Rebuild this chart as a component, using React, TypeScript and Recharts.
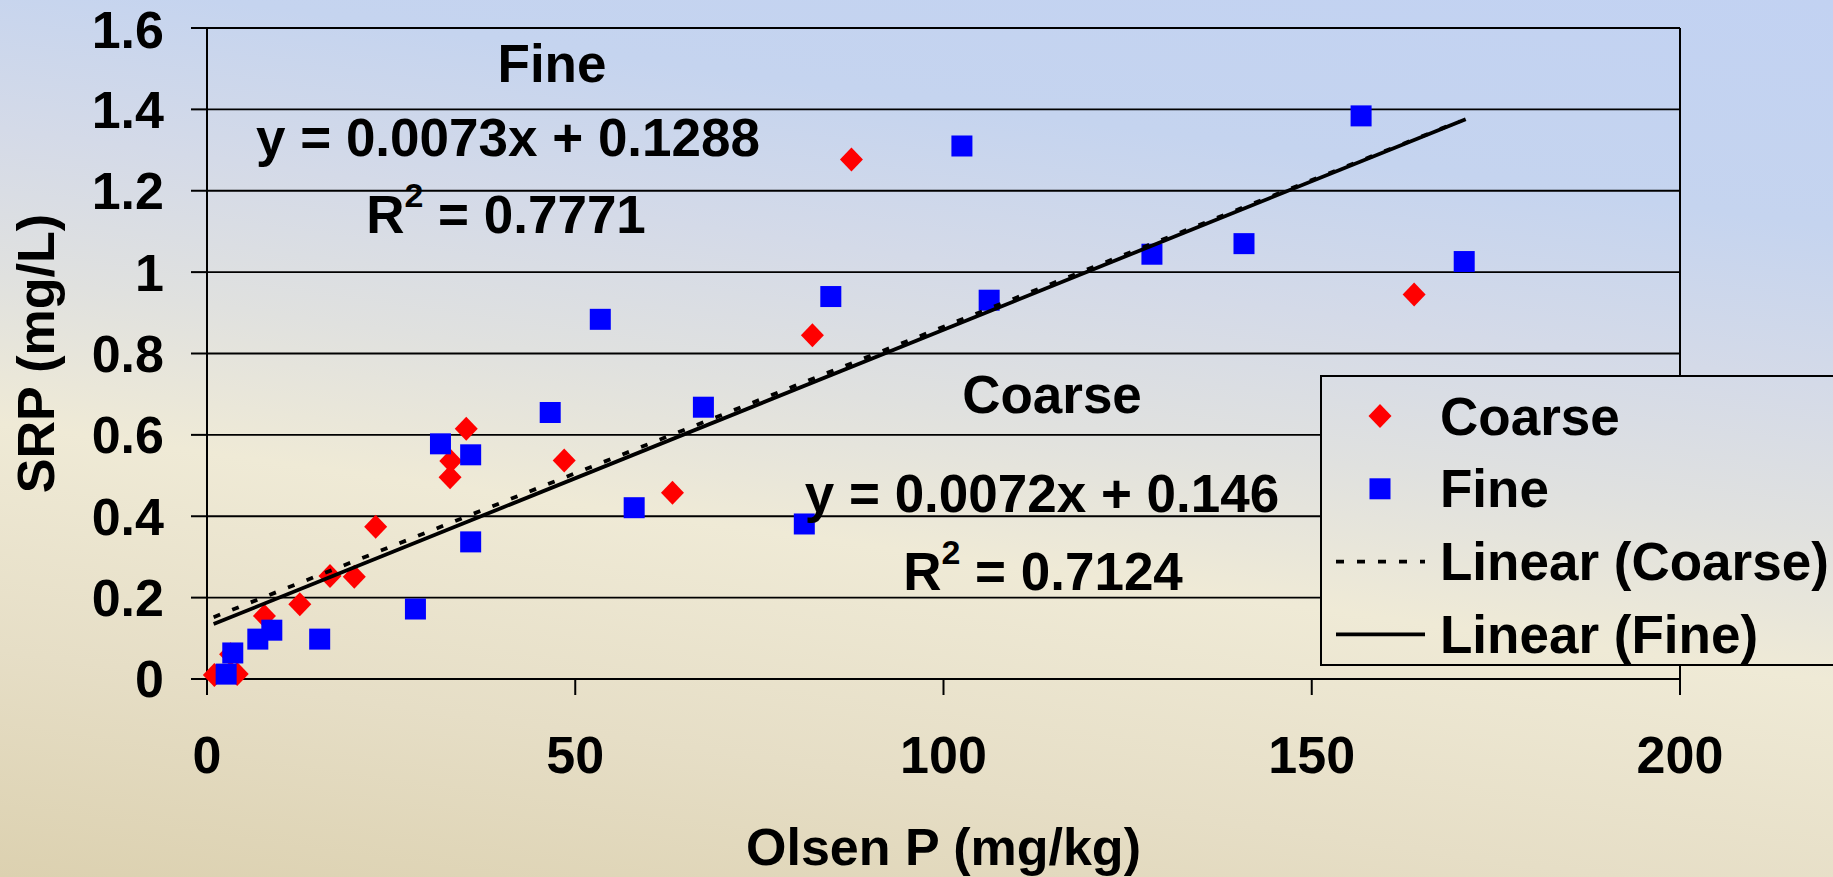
import React from 'react';
import { ScatterChart, Scatter, XAxis, YAxis, CartesianGrid, ReferenceLine, Legend, Label } from 'recharts';

// Olsen P (mg/kg) vs SRP (mg/L)
const coarseX = [1.0, 4.1, 3.2, 7.8, 12.6, 16.7, 20.0, 22.9, 33.0, 33.1, 35.2, 48.5, 63.2, 82.2, 87.5, 163.9];
const coarseY = [0.01, 0.012, 0.061, 0.155, 0.184, 0.253, 0.251, 0.374, 0.496, 0.536, 0.615, 0.537, 0.458, 0.845, 1.277, 0.945];

const fineX = [2.6, 3.5, 6.9, 8.8, 15.3, 28.3, 31.7, 35.8, 35.8, 46.6, 53.4, 58.0, 67.4, 81.1, 84.7, 102.5, 106.2, 128.3, 140.8, 156.7, 170.7];
const fineY = [0.012, 0.064, 0.098, 0.12, 0.098, 0.172, 0.578, 0.551, 0.337, 0.655, 0.884, 0.421, 0.668, 0.381, 0.94, 1.31, 0.931, 1.044, 1.07, 1.384, 1.026];

// trendline end points
const coarseTrendX = [0.9, 170];
const coarseTrendY = [0.152, 1.37];
const fineTrendX = [0.9, 170.9];
const fineTrendY = [0.135, 1.376];

const xTicks = [0, 50, 100, 150, 200];
const yTicks = [0, 0.2, 0.4, 0.6, 0.8, 1, 1.2, 1.4, 1.6];

const FONT = '"Liberation Sans", Arial, sans-serif';
const BG = 'linear-gradient(188deg, #c2d2f2 0%, #c5d4ef 20%, #d4dae8 34%, #e0e1df 47%, #efead6 60%, #e6dec6 80%, #dcd1b0 100%)';

const toPoints = (xs: number[], ys: number[]) => xs.map((x, i) => ({ x, y: ys[i] }));

const coarse = toPoints(coarseX, coarseY);
const fine = toPoints(fineX, fineY);
const coarseTrend = toPoints(coarseTrendX, coarseTrendY);
const fineTrend = toPoints(fineTrendX, fineTrendY);

const Diamond = (p: any) => {
  const { cx, cy } = p;
  return <polygon points={`${cx},${cy - 12} ${cx + 11.5},${cy} ${cx},${cy + 12} ${cx - 11.5},${cy}`} fill="#ff0000" />;
};

const Square = (p: any) => {
  const { cx, cy } = p;
  return <rect x={cx - 10.5} y={cy - 10.5} width={21} height={21} fill="#0000ff" />;
};

const NoDot = () => <g />;

const legendIcon: Record<string, string> = {
  Coarse: 'diamond',
  Fine: 'square',
  'Linear (Coarse)': 'dash',
  'Linear (Fine)': 'solid',
};

function LegendBox(props: any) {
  const items = (props.payload || []).filter((p: any) => legendIcon[p.value]);
  return (
    <div style={{ width: 520, height: 291, boxSizing: 'border-box', border: '2px solid #000', background: BG, backgroundAttachment: 'fixed' }}>
      <svg width={516} height={287}>
        {items.map((it: any, i: number) => {
          const cy = 39 + i * 72.8;
          const kind = legendIcon[it.value];
          return (
            <g key={it.value}>
              {kind === 'diamond' && <Diamond cx={58} cy={cy} />}
              {kind === 'square' && <Square cx={58} cy={cy} />}
              {kind === 'dash' && <line x1={14} x2={103} y1={cy} y2={cy} stroke="#000" strokeWidth={3.8} strokeDasharray="8 13" />}
              {kind === 'solid' && <line x1={14} x2={103} y1={cy} y2={cy} stroke="#000" strokeWidth={3.8} />}
              <text x={118} y={cy + 18.5} fontFamily={FONT} fontWeight={700} fontSize={53} fill="#000">{it.value}</text>
            </g>
          );
        })}
      </svg>
    </div>
  );
}

const tickStyle = { fill: '#000', fontSize: 52, fontWeight: 700, fontFamily: FONT };
const textProps = { fontFamily: FONT, fontWeight: 700, fontSize: 53, fill: '#000', textAnchor: 'middle' as const };

export default function App() {
  return (
    <div style={{ position: 'relative', width: 1833, height: 877, overflow: 'hidden', background: BG, backgroundAttachment: 'fixed' }}>
      <style>{'body{margin:0}'}</style>
      <ScatterChart width={1833} height={877} margin={{ top: 28, right: 153, bottom: 0, left: 0 }}>
        <CartesianGrid vertical={false} stroke="#000" strokeWidth={1.8} />
        <XAxis
          type="number"
          dataKey="x"
          domain={[0, 200]}
          ticks={xTicks}
          height={198}
          tickSize={16}
          tickMargin={41}
          tick={tickStyle}
          axisLine={{ stroke: '#000', strokeWidth: 2 }}
          tickLine={{ stroke: '#000', strokeWidth: 2 }}
        >
          <Label
            content={(p: any) => (
              <text x={p.viewBox.x + p.viewBox.width / 2} y={p.viewBox.y + 186} fontFamily={FONT} fontWeight={700} fontSize={52} fill="#000" textAnchor="middle">
                Olsen P (mg/kg)
              </text>
            )}
          />
        </XAxis>
        <YAxis
          type="number"
          dataKey="y"
          domain={[0, 1.6]}
          ticks={yTicks}
          width={207}
          tickSize={16}
          tickMargin={27}
          tick={tickStyle}
          axisLine={{ stroke: '#000', strokeWidth: 2 }}
          tickLine={{ stroke: '#000', strokeWidth: 2 }}
        >
          <Label
            content={(p: any) => {
              const cx = p.viewBox.x + 54;
              const cy = p.viewBox.y + p.viewBox.height / 2;
              return (
                <text x={cx} y={cy} transform={`rotate(-90 ${cx} ${cy})`} fontFamily={FONT} fontWeight={700} fontSize={52} fill="#000" textAnchor="middle">
                  SRP (mg/L)
                </text>
              );
            }}
          />
        </YAxis>
        <ReferenceLine x={200} stroke="#000" strokeWidth={2} />
        <Scatter name="Coarse" data={coarse} fill="#ff0000" shape={Diamond} isAnimationActive={false} />
        <Scatter name="Fine" data={fine} fill="#0000ff" shape={Square} isAnimationActive={false} />
        <Scatter
          name="Linear (Coarse)"
          data={coarseTrend}
          fill="#000"
          shape={NoDot}
          line={{ stroke: '#000', strokeWidth: 3.8, strokeDasharray: '7 13' }}
          legendType="line"
          isAnimationActive={false}
        />
        <Scatter
          name="Linear (Fine)"
          data={fineTrend}
          fill="#000"
          shape={NoDot}
          line={{ stroke: '#000', strokeWidth: 3.8 }}
          legendType="line"
          isAnimationActive={false}
        />
        <Legend
          layout="horizontal"
          verticalAlign="middle"
          align="center"
          content={LegendBox}
          wrapperStyle={{ left: 1320, top: 375, width: 520, height: 291 }}
        />
      </ScatterChart>
      <svg width={1833} height={877} style={{ position: 'absolute', left: 0, top: 0, pointerEvents: 'none' }}>
        <text x={552} y={82} {...textProps}>Fine</text>
        <text x={508} y={156} {...textProps}>y = 0.0073x + 0.1288</text>
        <text x={506} y={233} {...textProps}>
          <tspan>R</tspan>
          <tspan dy={-26} fontSize={34}>2</tspan>
          <tspan dy={26}> = 0.7771</tspan>
        </text>
        <text x={1052} y={413} {...textProps}>Coarse</text>
        <text x={1042} y={512} {...textProps}>y = 0.0072x + 0.146</text>
        <text x={1043} y={590} {...textProps}>
          <tspan>R</tspan>
          <tspan dy={-26} fontSize={34}>2</tspan>
          <tspan dy={26}> = 0.7124</tspan>
        </text>
      </svg>
    </div>
  );
}
